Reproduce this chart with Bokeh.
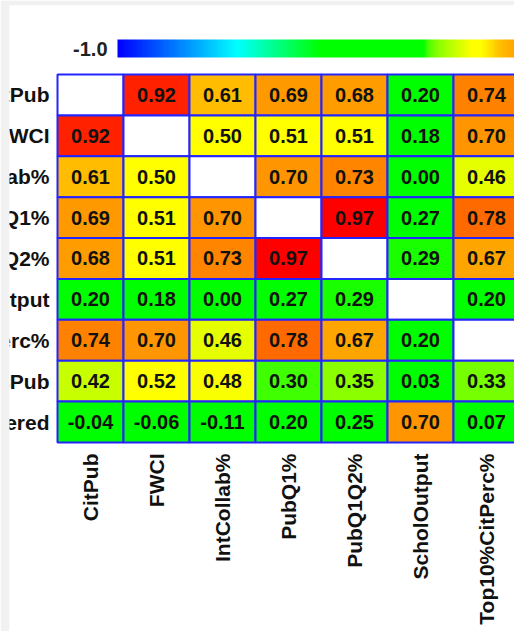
import numpy as np
from bokeh.plotting import figure
from bokeh.models import ColumnDataSource, LinearColorMapper, Range1d
from bokeh.transform import transform
from bokeh.core.properties import value
from bokeh.embed import file_html
from bokeh.resources import INLINE

# ---------------- data ----------------
col_labels = ["CitPub", "FWCI", "IntCollab%", "PubQ1%", "PubQ1Q2%",
              "ScholOutput", "Top10%CitPerc%"]
row_labels = ["CitPub", "FWCI", "IntCollab%", "PubQ1%", "PubQ1Q2%",
              "ScholOutput", "Top10%CitPerc%", "OpenAccessPub", "PatentsRegistered"]
N = None
values = [
    [N,     0.92,  0.61,  0.69, 0.68, 0.20, 0.74],
    [0.92,  N,     0.50,  0.51, 0.51, 0.18, 0.70],
    [0.61,  0.50,  N,     0.70, 0.73, 0.00, 0.46],
    [0.69,  0.51,  0.70,  N,    0.97, 0.27, 0.78],
    [0.68,  0.51,  0.73,  0.97, N,    0.29, 0.67],
    [0.20,  0.18,  0.00,  0.27, 0.29, N,    0.20],
    [0.74,  0.70,  0.46,  0.78, 0.67, 0.20, N   ],
    [0.42,  0.52,  0.48,  0.30, 0.35, 0.03, 0.33],
    [-0.04, -0.06, -0.11, 0.20, 0.25, 0.70, 0.07],
]
scale_low, scale_high = -1.0, 1.0
scale_label = "-1.0"

# ---------------- colour map (style) ----------------
anchor_vals = [-1.0, -0.50, -0.15, 0.29, 0.30, 0.33, 0.35, 0.42, 0.46, 0.49, 0.53,
               0.61, 0.67, 0.70, 0.74, 0.78, 0.92, 0.97, 1.0]
anchor_cols = ["#0000ff", "#00ffff", "#00ff00", "#00ff00", "#3cff00", "#70ff00",
               "#8cff00", "#c8ff00", "#e6ff00", "#ffff00", "#ffff00", "#ffbe00",
               "#ffa500", "#ff9600", "#ff8200", "#ff6a00", "#ff2200", "#ff0000", "#ff0000"]


def _rgb(h):
    return [int(h[i:i + 2], 16) for i in (1, 3, 5)]


_rgbs = np.array([_rgb(c) for c in anchor_cols], dtype=float)
_grid = np.linspace(scale_low, scale_high, 256)
palette = []
for g in _grid:
    r, gg, b = (np.interp(g, anchor_vals, _rgbs[:, k]) for k in range(3))
    palette.append("#%02x%02x%02x" % (int(round(r)), int(round(gg)), int(round(b))))

mapper = LinearColorMapper(palette=palette, low=scale_low, high=scale_high,
                           nan_color="white")

# ---------------- layout constants ----------------
W, H = 514, 631
cell_w, cell_h = 66.0, 40.89
frame_left, frame_top = 9, 5     # light grey window edge outside the frame
grid_left = 57                   # px of grid left edge
grid_bottom = 442                # px of grid bottom edge
n_rows = len(row_labels)
n_cols = len(col_labels)

x_start = -0.5 - (grid_left - frame_left) / cell_w
x_end = x_start + (W - frame_left) / cell_w
y_start = -0.5 - (H - grid_bottom) / cell_h
y_end = -0.5 + (grid_bottom - frame_top) / cell_h


def px_x(px):
    return x_start + (px - frame_left) / cell_w


def px_y(px):
    return -0.5 + (grid_bottom - px) / cell_h


xs, ys, vals, txt = [], [], [], []
for ri, row in enumerate(values):
    for ci, v in enumerate(row):
        xs.append(ci)
        ys.append(n_rows - 1 - ri)
        vals.append(float("nan") if v is None else v)
        txt.append("" if v is None else f"{v:.2f}")

src = ColumnDataSource(dict(x=xs, y=ys, v=vals, t=txt))

p = figure(width=W, height=H, output_backend="svg", toolbar_location=None,
           x_range=Range1d(x_start, x_end), y_range=Range1d(y_start, y_end),
           x_axis_location=None, y_axis_location=None,
           min_border=0, min_border_left=frame_left, min_border_right=0,
           min_border_top=frame_top, min_border_bottom=0)
p.outline_line_color = None
p.grid.visible = False
p.background_fill_color = "white"
p.border_fill_color = "#f1f1f1"

font = value("Liberation Sans")

p.rect(x="x", y="y", width=1, height=1, source=src,
       fill_color=transform("v", mapper), line_color="#2424ff", line_width=2)
p.text(x="x", y="y", text="t", source=src, text_align="center",
       text_baseline="middle", text_font=font, text_font_style="bold",
       text_font_size="20px", text_color="#111111")

# row labels (cut at the frame's left edge like the reference)
row_y = [n_rows - 1 - i for i in range(n_rows)]
p.text(x=[px_x(49)] * n_rows, y=row_y, text=row_labels,
       text_align="right", text_baseline="middle", text_font=font,
       text_font_style="bold", text_font_size="21px", text_color="#111111")

# column labels, vertical, reading upwards, ending just below the grid
p.text(x=list(range(n_cols)), y=[px_y(453)] * n_cols, text=col_labels,
       angle=np.pi / 2, text_align="right", text_baseline="middle",
       text_font=font, text_font_style="bold", text_font_size="21px",
       text_color="#111111")

# colour scale bar
grad = np.linspace(scale_low, scale_high, 256).reshape(1, 256)
p.image(image=[grad], x=px_x(117), y=px_y(57), dw=476 / cell_w, dh=18 / cell_h,
        color_mapper=mapper)
p.text(x=[px_x(107)], y=[px_y(48)], text=[scale_label],
       text_align="right", text_baseline="middle", text_font=font,
       text_font_style="bold", text_font_size="20px", text_color="#222222")

open("out.html", "w").write(file_html(p, INLINE))
